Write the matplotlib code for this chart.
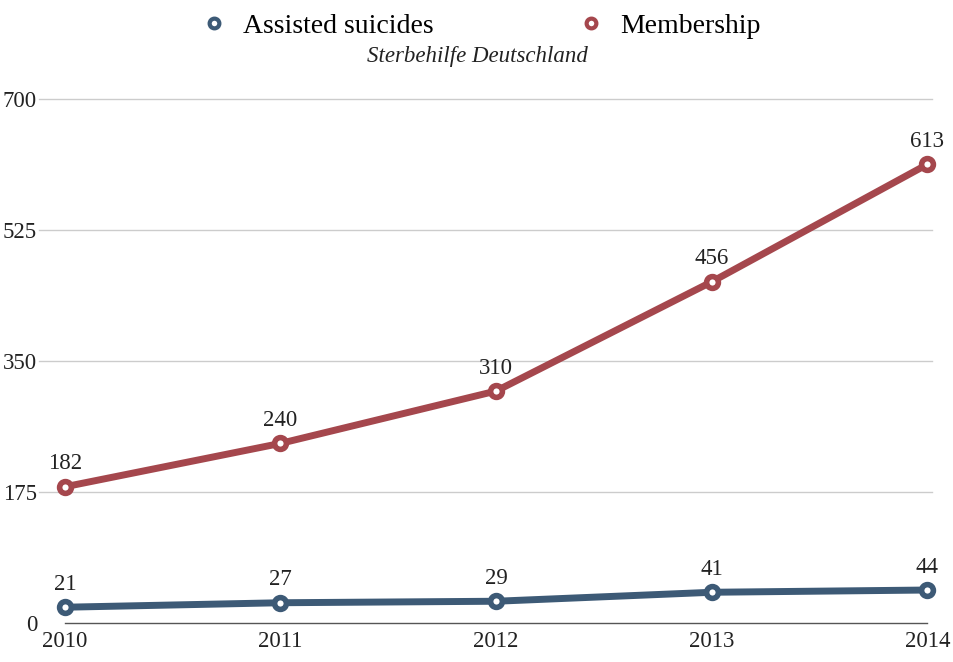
import matplotlib.pyplot as plt
from matplotlib.lines import Line2D

plt.rcParams['font.family'] = ['Liberation Serif', 'DejaVu Serif']

years = [2010, 2011, 2012, 2013, 2014]
assisted = [21, 27, 29, 41, 44]
membership = [182, 240, 310, 456, 613]
yticks = [0, 175, 350, 525, 700]

blue = '#3d5a76'
red = '#a5474d'

fig = plt.figure(figsize=(9.54, 6.62), dpi=100)
ax = fig.add_axes([0.068, 0.059, 0.904, 0.791])
ax.set_xlim(2010, 2014)
ax.set_ylim(0, 700)

# gridlines (slightly wider than the data area)
for y in yticks[1:]:
    ax.plot([2009.88, 2014.02], [y, y], color='#cccccc', lw=1, clip_on=False, zorder=1)
ax.plot([2010, 2014], [0, 0], color='#555555', lw=1, clip_on=False, zorder=1)

for vals, col in [(membership, red), (assisted, blue)]:
    ax.plot(years, vals, color=col, lw=5, marker='o', ms=8.5, mfc='white',
            mec=col, mew=4, clip_on=False, zorder=3)
    for x, v in zip(years, vals):
        ax.annotate(str(v), (x, v), xytext=(0, 9), textcoords='offset points',
                    ha='center', va='bottom', fontsize=16.5, color='#222222')

for s in ax.spines.values():
    s.set_visible(False)
ax.set_yticks(yticks)
ax.set_yticklabels([str(t) for t in yticks])
ax.set_xticks(years)
ax.tick_params(length=0, labelsize=16.5, colors='#222222')
ax.tick_params(axis='y', pad=20)
ax.tick_params(axis='x', pad=6)

handles = [Line2D([], [], color=blue, lw=0, marker='o', ms=7, mfc='white', mec=blue, mew=3),
           Line2D([], [], color=red, lw=0, marker='o', ms=7, mfc='white', mec=red, mew=3)]
fig.legend(handles, ['Assisted suicides', 'Membership'], loc='upper center',
           bbox_to_anchor=(0.5, 1.018), ncol=2, frameon=False, fontsize=20,
           columnspacing=4.9, handletextpad=0.3, handlelength=1.5)
fig.text(0.5, 0.915, 'Sterbehilfe Deutschland', ha='center', va='center',
         fontsize=16.5, style='italic', color='#222222')

fig.savefig('out.png', dpi=100)
